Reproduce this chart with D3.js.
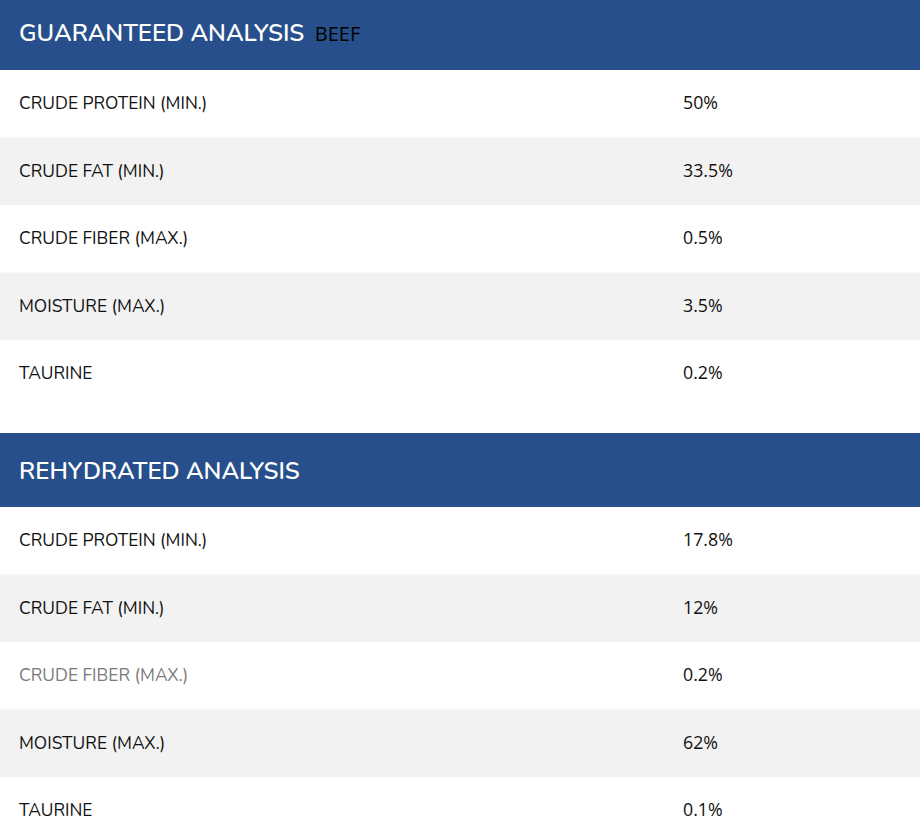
<!DOCTYPE html>
<html><head><meta charset="utf-8">
<script src="https://cdn.jsdelivr.net/npm/d3@7"></script>
<style>html,body{margin:0;padding:0;background:#fff;overflow:hidden}</style>
</head><body>
<svg id="chart" width="920" height="817"></svg>
<script>
const sectionTitles = ["GUARANTEED ANALYSIS", "REHYDRATED ANALYSIS"];
const sectionSubtitles = ["BEEF", ""];
const guaranteedLabels = ["CRUDE PROTEIN (MIN.)", "CRUDE FAT (MIN.)", "CRUDE FIBER (MAX.)", "MOISTURE (MAX.)", "TAURINE"];
const guaranteedValues = [50, 33.5, 0.5, 3.5, 0.2];
const rehydratedLabels = ["CRUDE PROTEIN (MIN.)", "CRUDE FAT (MIN.)", "CRUDE FIBER (MAX.)", "MOISTURE (MAX.)", "TAURINE"];
const rehydratedValues = [17.8, 12, 0.2, 62, 0.1];
const mutedRows = [[], [2]];

const W = 920;
const headH = 74, rowH = 67.5, gap = 25.5;
const blue = "#264f8c", grey = "#f2f2f2";
const labelFont = "Nunito, 'Noto Sans', 'Open Sans', sans-serif";
const valueFont = "'Open Sans', 'Noto Sans', sans-serif";

const svg = d3.select("#chart");
const sections = [
  {title: sectionTitles[0], sub: sectionSubtitles[0], labels: guaranteedLabels, values: guaranteedValues, muted: mutedRows[0]},
  {title: sectionTitles[1], sub: sectionSubtitles[1], labels: rehydratedLabels, values: rehydratedValues, muted: mutedRows[1]}
];
const fmt = v => d3.format("~g")(v) + "%";
const x = d3.scaleLinear().domain([0, 1]).range([0, W]);

let offY = -4;
sections.forEach((sec, si) => {
  const g = svg.append("g").attr("transform", `translate(0,${offY})`);
  g.append("rect").attr("x", 0).attr("y", 0).attr("width", W).attr("height", headH).attr("fill", blue);
  const t = g.append("text").attr("x", 19).attr("y", headH / 2 + (si === 0 ? 7.5 : 8.5))
    .attr("font-family", labelFont).attr("font-size", 24).attr("font-weight", 600)
    .attr("fill", "#fff").text(sec.title);
  if (sec.sub) {
    const tw = t.node().getComputedTextLength();
    g.append("text").attr("x", 19 + tw + 10.5).attr("y", headH / 2 + 7.5)
      .attr("font-family", valueFont).attr("font-size", 20)
      .attr("fill", "#000").text(sec.sub);
  }
  const y = d3.scaleBand().domain(d3.range(sec.labels.length))
    .range([headH, headH + rowH * sec.labels.length]).padding(0);
  const rows = g.selectAll("g.row").data(sec.labels).join("g").attr("class", "row")
    .attr("transform", (d, i) => `translate(0,${y(i)})`);
  rows.append("rect").attr("x", 0).attr("width", W).attr("height", y.bandwidth())
    .attr("fill", (d, i) => i % 2 ? grey : "#fff");
  rows.append("text").attr("x", 19).attr("y", y.bandwidth() / 2 + 5.5)
    .attr("font-family", labelFont).attr("font-size", 17.4)
    .attr("fill", (d, i) => sec.muted.includes(i) ? "#7a7a7a" : "#111").text(d => d);
  rows.append("text").attr("x", x(0.7424)).attr("y", y.bandwidth() / 2 + 5.5)
    .attr("font-family", valueFont).attr("font-size", 17.8)
    .attr("fill", "#111").text((d, i) => fmt(sec.values[i]));
  offY += headH + rowH * sec.labels.length + gap;
});
</script>
</body></html>
